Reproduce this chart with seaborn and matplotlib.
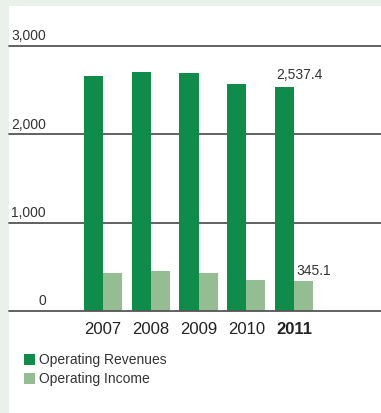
import matplotlib
matplotlib.use("Agg")
import matplotlib.pyplot as plt
import seaborn as sns
import pandas as pd
from matplotlib.patches import Rectangle

years = ["2007", "2008", "2009", "2010", "2011"]
revenues = [2661, 2707, 2695, 2571, 2537.4]
income = [430, 453, 430, 351, 345.1]
series = ["Operating Revenues", "Operating Income"]
yticks = [0, 1000, 2000, 3000]
ytick_labels = ["0", "1,000", "2,000", "3,000"]

DARK = "#108c4a"
LIGHT = "#94bd94"
BG = "#eaf0ea"
TEXT = "#333333"
FONT = ["Liberation Sans", "DejaVu Sans"]

df = pd.DataFrame({
    "year": years * 2,
    "value": revenues + income,
    "series": [series[0]] * len(years) + [series[1]] * len(years),
})

sns.set_theme(style="white")
plt.rcParams["font.family"] = FONT

W, H = 381, 414
fig = plt.figure(figsize=(W / 100, H / 100), dpi=100, facecolor=BG)

# white panel, behind everything else
fig.patches.append(Rectangle((9 / W, 0), 1 - 9 / W, 1 - 7 / H,
                             transform=fig.transFigure, facecolor="white",
                             edgecolor="none", zorder=-5))

# axes: value 0 at y=312px, 3000 at y=47px; full width from x=9px
ax_bottom = (H - 312) / H
ax_height = (312 - 47) / H
ax = fig.add_axes([9 / W, ax_bottom, 1 - 9 / W, ax_height])
ax.set_facecolor("none")

sns.barplot(data=df, x="year", y="value", hue="series", order=years,
            hue_order=series, palette=[DARK, LIGHT], width=0.8,
            saturation=1, ax=ax, legend=False, zorder=2,
            edgecolor="none", linewidth=0)

step = 47.75
ax.set_xlim((9 - 103) / step, (381 - 103) / step)
ax.set_ylim(0, 3000)

for s in ax.spines.values():
    s.set_visible(False)
ax.set_xticks([])
ax.set_yticks([])
ax.set_xlabel("")
ax.set_ylabel("")

xmin, xmax = ax.get_xlim()
for v, lab in zip(yticks, ytick_labels):
    ax.axhline(v, color="#555555", lw=1.3, zorder=3 if v == 0 else 1,
               clip_on=False)
    ax.text(xmin + (46 - 9) / step, v + 40, lab, ha="right", va="bottom",
            fontsize=10, color=TEXT)

for i, y in enumerate(years):
    ax.text(i, -110, y, ha="center", va="top", fontsize=12, color="#222222",
            fontweight="bold" if y == "2011" else "normal")

# value labels for the latest year
last = len(years) - 1
ax.text(last - 0.4 + 0.02, revenues[last] + 65, f"{revenues[last]:,.1f}",
        ha="left", va="bottom", fontsize=10, color=TEXT)
ax.text(last + 0.06, income[last] + 45, f"{income[last]:,.1f}",
        ha="left", va="bottom", fontsize=10, color=TEXT)

# legend
for k, (name, col) in enumerate(zip(series, [DARK, LIGHT])):
    ytop = 355 + k * 19
    fig.patches.append(Rectangle((24 / W, 1 - (ytop + 11) / H), 11 / W, 11 / H,
                                 transform=fig.transFigure, facecolor=col,
                                 edgecolor="none"))
    fig.text(39 / W, 1 - (ytop + 5.5) / H, name, ha="left", va="center",
             fontsize=10, color=TEXT)

fig.savefig("out.png", dpi=100, facecolor=BG)
